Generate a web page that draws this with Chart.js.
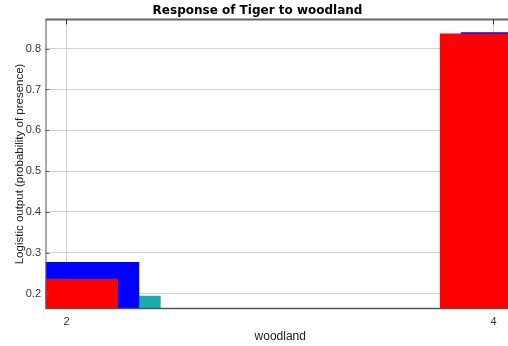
<!DOCTYPE html>
<html>
<head>
<meta charset="utf-8">
<script src="https://cdn.jsdelivr.net/npm/chart.js@4"></script>
<style>
html,body{margin:0;padding:0;background:#fff;overflow:hidden;}
#wrap{position:relative;width:520px;height:346px;}
</style>
</head>
<body>
<div id="wrap"><canvas id="c" width="520" height="346"></canvas></div>
<script>
// ---- data ----
const categories = [2, 4];
const meanResponse = [0.236, 0.837];      // red
const meanPlusSD   = [0.2775, 0.840];     // blue
const meanMinusSD  = [0.195, 0.834];      // teal
const xTickLabels = [2, 4];
const yTickLabels = [0.2, 0.3, 0.4, 0.5, 0.6, 0.7, 0.8];
const title = 'Response of Tiger to woodland';
const xTitle = 'woodland';
const yTitle = 'Logistic output (probability of presence)';

// ---- layout constants (bar offsets relative to category, in axis units) ----
const barWidth = 0.495;
const seriesDefs = [
  {values: meanResponse, color: '#ff0000', offset: -0.252},
  {values: meanPlusSD,   color: '#0000ff', offset: -0.153},
  {values: meanMinusSD,  color: '#19aeae', offset: -0.053}
];

const datasets = [];
seriesDefs.forEach(s => {
  categories.forEach((c, i) => {
    datasets.push({
      data: [{x: c + s.offset, y: s.values[i]}, {x: c + s.offset + barWidth, y: s.values[i]}],
      borderWidth: 0,
      borderColor: s.color,
      backgroundColor: s.color,
      fill: 'start',
      pointRadius: 0,
      tension: 0
    });
  });
});

const frame = {
  id: 'frame',
  afterDatasetsDraw(chart) {
    const {ctx, chartArea: a, scales} = chart;
    ctx.save();
    ctx.strokeStyle = '#666';
    ctx.lineWidth = 2;
    ctx.beginPath();
    ctx.moveTo(a.left, a.top); ctx.lineTo(a.right, a.top);
    ctx.stroke();
    ctx.lineWidth = 1;
    ctx.strokeStyle = '#333';
    xTickLabels.forEach(v => {
      const px = Math.round(scales.x.getPixelForValue(v)) + 0.5;
      ctx.beginPath(); ctx.moveTo(px, a.top); ctx.lineTo(px, a.top + 5); ctx.stroke();
    });
    ctx.strokeStyle = '#666';
    yTickLabels.forEach(v => {
      const py = Math.round(scales.y.getPixelForValue(v)) + 0.5;
      ctx.beginPath(); ctx.moveTo(a.left, py); ctx.lineTo(a.left + 4, py); ctx.stroke();
    });
    ctx.strokeStyle = '#555';
    ctx.beginPath();
    ctx.moveTo(a.left + 0.5, a.top); ctx.lineTo(a.left + 0.5, a.bottom);
    ctx.stroke();
    ctx.lineWidth = 1.5;
    ctx.beginPath();
    ctx.moveTo(a.left, a.bottom); ctx.lineTo(a.right, a.bottom);
    ctx.stroke();
    ctx.restore();
  }
};

new Chart(document.getElementById('c'), {
  type: 'line',
  data: {datasets},
  plugins: [frame],
  options: {
    responsive: false,
    animation: false,
    layout: {padding: {top: 0, right: 5, bottom: 0, left: 0}},
    plugins: {
      legend: {display: false},
      tooltip: {enabled: false},
      title: {
        display: true, text: title, color: '#000',
        font: {family: 'DejaVu Sans', size: 12, weight: 'bold'},
        padding: {top: 4, bottom: 1}
      }
    },
    scales: {
      x: {
        type: 'linear', min: 1.9017, max: 4.101,
        afterBuildTicks: ax => { ax.ticks = xTickLabels.map(v => ({value: v})); },
        afterFit: ax => { ax.height = 37.5; },
        grid: {color: '#d0d0d0', drawTicks: false},
        border: {display: false},
        ticks: {color: '#333', font: {family: 'Liberation Sans', size: 11}, padding: 7,
                callback: v => String(v)},
        title: {display: true, text: xTitle, color: '#222',
                font: {family: 'Liberation Sans', size: 12}, padding: {top: 4, bottom: 2}}
      },
      y: {
        type: 'linear', min: 0.1637, max: 0.8716,
        afterBuildTicks: ax => { ax.ticks = yTickLabels.map(v => ({value: v})); },
        afterFit: ax => { ax.width = 45.5; },
        grid: {color: '#d0d0d0', drawTicks: false},
        border: {display: false},
        ticks: {color: '#333', font: {family: 'Liberation Sans', size: 11}, padding: 4.5,
                callback: v => v.toFixed(1)},
        title: {display: true, text: yTitle, color: '#222',
                font: {family: 'Liberation Sans', size: 11.5}, padding: {top: 13, bottom: 2}}
      }
    }
  }
});
</script>
</body>
</html>
